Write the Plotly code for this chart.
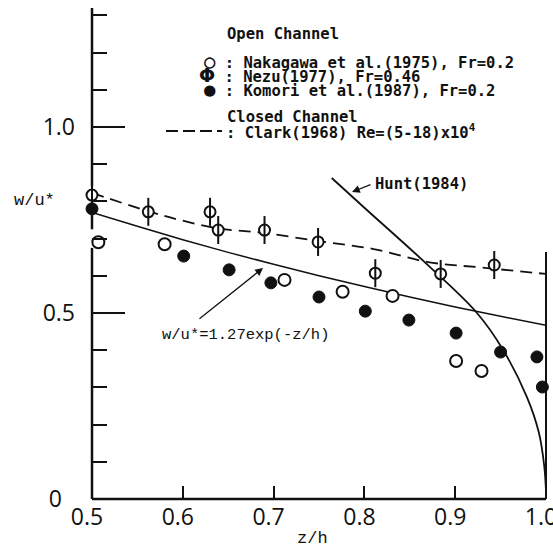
import plotly.graph_objects as go

# ---- data ----
nak_x = [0.507, 0.580, 0.712, 0.776, 0.831, 0.901, 0.929]
nak_y = [0.690, 0.685, 0.589, 0.557, 0.546, 0.371, 0.344]

nezu_x = [0.500, 0.562, 0.630, 0.639, 0.690, 0.749, 0.812, 0.884, 0.943]
nezu_y = [0.817, 0.772, 0.772, 0.723, 0.723, 0.691, 0.607, 0.605, 0.629]

komori_x = [0.500, 0.601, 0.651, 0.697, 0.750, 0.801, 0.849, 0.901, 0.950, 0.990, 0.996]
komori_y = [0.780, 0.653, 0.616, 0.581, 0.543, 0.505, 0.481, 0.446, 0.395, 0.382, 0.301]

clark_x = [0.50, 0.56, 0.60, 0.64, 0.69, 0.75, 0.81, 0.87, 0.93, 1.00]
clark_y = [0.823, 0.775, 0.748, 0.727, 0.715, 0.693, 0.672, 0.637, 0.622, 0.605]

exp_x = [0.50, 0.55, 0.60, 0.65, 0.70, 0.75, 0.80, 0.85, 0.90, 0.95, 1.00]
exp_y = [0.770, 0.733, 0.697, 0.663, 0.631, 0.600, 0.571, 0.543, 0.516, 0.491, 0.467]

hunt_x = [0.764, 0.800, 0.872, 0.924, 0.953, 0.979, 0.992, 0.998, 1.000]
hunt_y = [0.863, 0.783, 0.624, 0.500, 0.400, 0.274, 0.180, 0.090, 0.020]

x_ticks = [0.5, 0.6, 0.7, 0.8, 0.9, 1.0]
x_ticklabels = ["0.5", "0.6", "0.7", "0.8", "0.9", "1.0"]
y_ticks = [0, 0.5, 1.0]
y_ticklabels = ["0\u2007", "0.5", "1.0"]

# ---- pixel helpers (for text/decoration placement only) ----
def X(px):
    return 0.5 + (px - 92) / 908.0

def Y(py):
    return (499 - py) / 372.0

def PX(px):  # paper x
    return (px - 92) / 454.0

def PY(py):  # paper y
    return (499 - py) / 491.0

BLACK = "#111111"
fig = go.Figure()

fig.add_trace(go.Scatter(x=clark_x, y=clark_y, mode="lines", line=dict(color=BLACK, width=1.8, dash="12px,7px", shape="spline"), showlegend=False))
fig.add_trace(go.Scatter(x=exp_x, y=exp_y, mode="lines", line=dict(color=BLACK, width=1.5, shape="spline"), showlegend=False))
fig.add_trace(go.Scatter(x=hunt_x, y=hunt_y, mode="lines", line=dict(color=BLACK, width=1.8, shape="spline"), showlegend=False))

fig.add_trace(go.Scatter(x=nak_x, y=nak_y, mode="markers", cliponaxis=False,
                         marker=dict(symbol="circle", size=12, color="white", line=dict(color=BLACK, width=2)), showlegend=False))
fig.add_trace(go.Scatter(x=nezu_x, y=nezu_y, mode="markers", cliponaxis=False,
                         marker=dict(symbol="circle", size=11, color="white", line=dict(color=BLACK, width=2)), showlegend=False))
fig.add_trace(go.Scatter(x=nezu_x, y=nezu_y, mode="markers", cliponaxis=False,
                         marker=dict(symbol="line-ns-open", size=20, color=BLACK, line=dict(color=BLACK, width=2)), showlegend=False))
fig.add_trace(go.Scatter(x=komori_x, y=komori_y, mode="markers", cliponaxis=False,
                         marker=dict(symbol="circle", size=12, color=BLACK, line=dict(color=BLACK, width=1)), showlegend=False))

# ---- axis line pieces (left axis is broken near the data), bottom axis, right boundary ----
shapes = []
for y0, y1 in [(0, 0.675), (0.725, 0.765), (0.84, Y(8))]:
    shapes.append(dict(type="line", xref="paper", yref="paper", x0=0, x1=0, y0=PY(499 - y0 * 372), y1=PY(499 - y1 * 372),
                       line=dict(color=BLACK, width=2.5), layer="above"))
shapes.append(dict(type="line", xref="paper", yref="paper", x0=0, x1=1, y0=0, y1=0,
                   line=dict(color=BLACK, width=2.5), layer="above"))
shapes.append(dict(type="line", xref="paper", yref="paper", x0=1, x1=1, y0=0, y1=PY(252),
                   line=dict(color=BLACK, width=2), layer="above"))
# legend dash sample
shapes.append(dict(type="line", xref="paper", yref="paper", x0=PX(166), x1=PX(222), y0=PY(131), y1=PY(131),
                   line=dict(color=BLACK, width=2, dash="12px,5px")))

LEG_FONT = dict(family="DejaVu Sans Mono", size=15.5, color=BLACK, weight="bold")
annotations = []
def txt(px, py, text, font, xanchor="left"):
    annotations.append(dict(x=PX(px), y=PY(py), xref="paper", yref="paper", text=text, showarrow=False,
                            xanchor=xanchor, yanchor="middle", font=font))

SYM = '<span style="font-size:19px">%s</span>'
PHI = '<span style="font-family:DejaVu Sans;font-size:19px">Φ</span>'
txt(225, 34, "Open Channel", LEG_FONT)
txt(202, 61, SYM % "○" + " : Nakagawa et al.(1975), Fr=0.2", LEG_FONT)
txt(197, 75, PHI + " : Nezu(1977), Fr=0.46", LEG_FONT)
txt(202, 89, SYM % "●" + " : Komori et al.(1987), Fr=0.2", LEG_FONT)
txt(225, 117, "Closed Channel", LEG_FONT)
txt(224, 131, ": Clark(1968) Re=(5-18)x10<sup>4</sup>", LEG_FONT)
txt(373, 184, "Hunt(1984)", dict(family="DejaVu Sans Mono", size=15.5, color=BLACK, weight="bold"))

MONO = dict(family="Liberation Mono", size=15.5, color=BLACK)
txt(160, 335, "w/u*=1.27exp(-z/h)", MONO)
txt(12, 200, "w/u*", dict(family="Liberation Mono", size=17, color=BLACK))
txt(312, 538, "z/h", dict(family="Liberation Mono", size=17, color=BLACK), xanchor="center")

# arrows
annotations.append(dict(x=X(263), y=Y(268), ax=X(198), ay=Y(320), xref="x", yref="y", axref="x", ayref="y",
                        text="", showarrow=True, arrowhead=2, arrowsize=1.2, arrowwidth=1.3, arrowcolor=BLACK))
annotations.append(dict(x=X(352), y=Y(192), ax=X(372), ay=Y(184), xref="x", yref="y", axref="x", ayref="y",
                        text="", showarrow=True, arrowhead=2, arrowsize=1.2, arrowwidth=1.3, arrowcolor=BLACK))

fig.update_layout(
    width=553, height=548,
    margin=dict(l=92, r=7, t=8, b=49, autoexpand=False),
    plot_bgcolor="white", paper_bgcolor="white",
    shapes=shapes, annotations=annotations,
    font=dict(family="Open Sans", size=22, color=BLACK),
)
fig.update_xaxes(range=[0.5, 1.0], tickvals=x_ticks, ticktext=x_ticklabels, automargin=False,
                 ticks="inside", ticklen=13, tickwidth=2, tickcolor=BLACK,
                 showline=False, showgrid=False, zeroline=False,
                 ticklabelshift=-5, ticklabelstandoff=2, ticklabeloverflow="allow",
                 tickfont=dict(family="Open Sans", size=23, color=BLACK))
fig.update_yaxes(range=[0, Y(8)], tickvals=y_ticks, ticktext=y_ticklabels, automargin=False,
                 ticks="inside", ticklen=33, tickwidth=2, tickcolor=BLACK,
                 minor=dict(ticks="inside", ticklen=15, tickwidth=2, tickcolor=BLACK, dtick=0.1, tick0=0),
                 showline=False, showgrid=False, zeroline=False, ticklabelstandoff=16,
                 tickfont=dict(family="Open Sans", size=23, color=BLACK))

fig.write_html("out.html")
